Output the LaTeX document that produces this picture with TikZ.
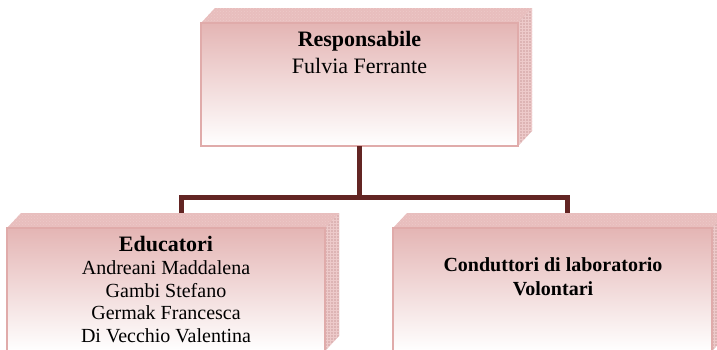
\documentclass[tikz,border=0pt]{standalone}
\usepackage{fontspec}
\setmainfont{Liberation Serif}
\usetikzlibrary{patterns}
\definecolor{pinkTop}{HTML}{E4B5B4}
\definecolor{pinkMid}{HTML}{F2DCDC}
\definecolor{pinkLine}{HTML}{E0ABAA}
\definecolor{pinkFace}{HTML}{E8BEBD}
\definecolor{pinkSide}{HTML}{DDB4B4}
\definecolor{pinkHatch}{HTML}{EDCACA}
\definecolor{maroon}{HTML}{632523}
\tikzset{
  frontface/.style={top color=pinkTop, middle color=pinkMid, bottom color=white},
  frontline/.style={draw=pinkLine, line width=1.4pt},
  topfacestyle/.style={fill=pinkFace},
  sidefacestyle/.style={fill=pinkSide},
  hatchstyle/.style={pattern=crosshatch dots, pattern color=pinkHatch},
  gridstyle/.style={pattern=grid, pattern color=pinkHatch},
  conn/.style={draw=maroon, line width=5pt},
  headtxt/.style={font=\fontsize{22}{26}\selectfont\bfseries, anchor=base, inner sep=0pt},
  bigtxt/.style={font=\fontsize{22}{26}\selectfont, anchor=base, inner sep=0pt},
  subhead/.style={font=\fontsize{20}{24}\selectfont\bfseries, anchor=base, inner sep=0pt},
  listtxt/.style={font=\fontsize{20}{23}\selectfont, anchor=base, inner sep=0pt},
}
% \mybox{left}{top}{right}{bottom}
\newcommand{\mybox}[4]{%
  \fill[topfacestyle] (#1,#2) -- (#1+14,#2-15) -- (#3+14,#2-15) -- (#3,#2) -- cycle;
  \fill[hatchstyle] (#1,#2) -- (#1+14,#2-15) -- (#3+14,#2-15) -- (#3,#2) -- cycle;
  \fill[sidefacestyle] (#3,#2) -- (#3+14,#2-15) -- (#3+14,#4-15) -- (#3,#4) -- cycle;
  \fill[gridstyle] (#3,#2) -- (#3+14,#2-15) -- (#3+14,#4-15) -- (#3,#4) -- cycle;
  \shade[frontface] (#1,#2) rectangle (#3,#4);
  \draw[frontline] (#1,#2) rectangle (#3,#4);
}
\begin{document}
\begin{tikzpicture}[x=1pt,y=-1pt]
\useasboundingbox (0,0) rectangle (717,349);
\begin{scope}
\clip (0,0) rectangle (717,349);
% boxes
\mybox{201}{23}{518}{146}
\mybox{7}{228}{325}{351}
\mybox{393}{228}{712}{351}

% anchor coordinates
\coordinate (respB) at (359.5,146);
\coordinate (split) at (359.5,197);
\coordinate (eduT) at (181,213);
\coordinate (condT) at (567,213);

% connectors
\draw[conn] (respB) -- (split);
\draw[conn, line join=miter] (eduT) -- (eduT |- split) -- (condT |- split) -- (condT);

% text
\node[headtxt] (r1) at (359.5,46) {Responsabile};
\node[bigtxt]  (r2) at (359.5,73) {Fulvia Ferrante};

\node[headtxt] (e1) at (166,251) {Educatori};
\node[listtxt] (e2) at (166,274) {Andreani Maddalena};
\node[listtxt] (e3) at (166,297) {Gambi Stefano};
\node[listtxt] (e4) at (166,319) {Germak Francesca};
\node[listtxt] (e5) at (166,342) {Di Vecchio Valentina};

\node[subhead] (c1) at (553,271) {Conduttori di laboratorio};
\node[subhead] (c2) at (553,295) {Volontari};
\end{scope}
\end{tikzpicture}
\end{document}
